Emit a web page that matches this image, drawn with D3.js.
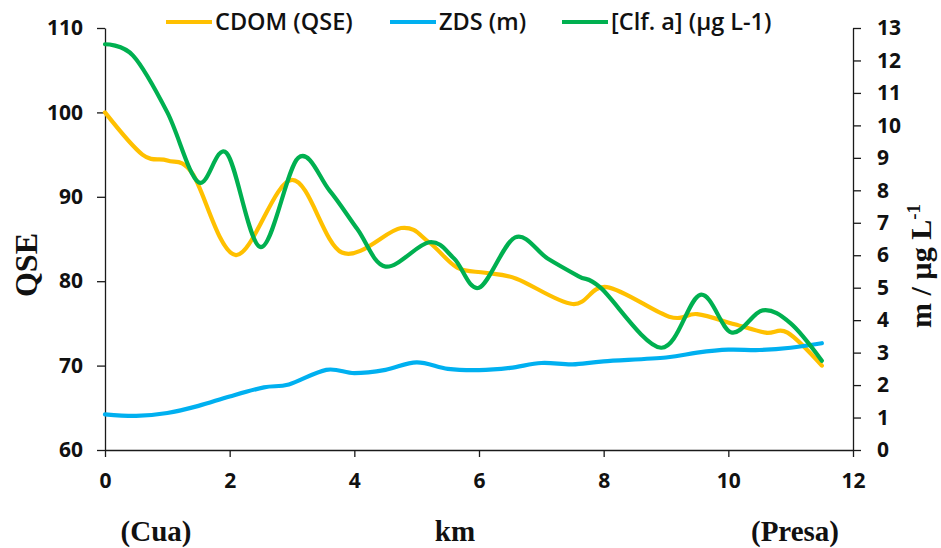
<!DOCTYPE html>
<html>
<head>
<meta charset="utf-8">
<script src="https://cdn.jsdelivr.net/npm/d3@7"></script>
<style>
  html, body { margin: 0; padding: 0; background: #fff; }
  svg { display: block; }
</style>
</head>
<body>
<svg id="chart" width="941" height="548"></svg>
<script>
// Distance along the reservoir (km) for each sampled profile
const cdomKm  = [0, 0.6, 1.0, 1.4, 2.1, 3.0, 3.8, 4.75, 5.2, 5.65, 6.1, 6.6, 7.5, 8.05, 9.05, 9.5, 10.1, 10.6, 10.95, 11.5];
const cdomQse = [100, 95.0, 94.3, 92.8, 83.1, 92.0, 83.4, 86.3, 84.6, 81.6, 81.0, 80.3, 77.3, 79.3, 75.8, 76.1, 74.9, 73.9, 73.9, 70.0];

const zdsKm = [0, 0.5, 1.0, 1.5, 2.0, 2.55, 2.95, 3.55, 4.0, 4.5, 5.0, 5.5, 6.0, 6.5, 7.0, 7.5, 8.0, 9.0, 9.5, 10.0, 10.5, 11.0, 11.5];
const zdsM  = [1.1, 1.05, 1.14, 1.36, 1.65, 1.93, 2.02, 2.47, 2.37, 2.47, 2.7, 2.5, 2.46, 2.53, 2.68, 2.64, 2.73, 2.85, 3.0, 3.09, 3.08, 3.15, 3.29];

const clfKm = [0, 0.45, 1.0, 1.5, 1.95, 2.5, 3.1, 3.6, 4.05, 4.5, 5.2, 5.6, 6.0, 6.58, 7.1, 7.6, 7.95, 8.92, 9.55, 10.05, 10.55, 11.0, 11.5];
const clfA  = [12.5, 12.15, 10.4, 8.25, 9.15, 6.25, 9.0, 8.0, 6.8, 5.65, 6.4, 5.9, 5.0, 6.55, 5.9, 5.35, 5.0, 3.15, 4.78, 3.62, 4.3, 3.9, 2.75];

// Axis ticks
const kmTicks   = [0, 2, 4, 6, 8, 10, 12];
const qseTicks  = [60, 70, 80, 90, 100, 110];
const rightTicks = [0, 1, 2, 3, 4, 5, 6, 7, 8, 9, 10, 11, 12, 13];

const seriesNames = ["CDOM (QSE)", "ZDS (m)", "[Clf. a] (µg L-1)"];
const seriesColors = ["#FFC000", "#00B0F0", "#00B050"];

const svg = d3.select("#chart");

const x  = d3.scaleLinear().domain([0, 12]).range([105, 853]);
const yL = d3.scaleLinear().domain([60, 110]).range([450, 28]);
const yR = d3.scaleLinear().domain([0, 13]).range([450, 28]);

const tickFont = "'Open Sans', sans-serif";

function styleAxis(g) {
  g.select(".domain").attr("stroke", "#1a1a1a").attr("stroke-width", 1.3);
  g.selectAll(".tick line").attr("stroke", "#1a1a1a").attr("stroke-width", 1.3);
  g.selectAll(".tick text")
    .attr("fill", "#111")
    .style("font-family", tickFont)
    .style("font-weight", "700")
    .style("font-size", "21px");
}

// Left axis (QSE)
svg.append("g")
  .attr("transform", "translate(105,0)")
  .call(d3.axisLeft(yL).tickValues(qseTicks).tickSize(8).tickPadding(14).tickSizeOuter(0))
  .call(styleAxis);

// Right axis (m / µg L-1)
svg.append("g")
  .attr("transform", "translate(853,0)")
  .call(d3.axisRight(yR).tickValues(rightTicks).tickSize(8).tickPadding(16).tickSizeOuter(0))
  .call(styleAxis);

// Bottom axis (km)
svg.append("g")
  .attr("transform", "translate(0,450)")
  .call(d3.axisBottom(x).tickValues(kmTicks).tickSize(7).tickPadding(16).tickSizeOuter(0))
  .call(styleAxis);

// Smoothed profile lines
const line = (ys) => d3.line()
  .x(d => x(d[0]))
  .y(d => ys(d[1]))
  .curve(d3.curveCardinal.tension(0));

const plot = svg.append("g").attr("fill", "none").attr("stroke-width", 4.2)
  .attr("stroke-linecap", "round").attr("stroke-linejoin", "round");

plot.append("path")
  .attr("d", line(yL)(d3.zip(cdomKm, cdomQse)))
  .attr("stroke", seriesColors[0]);

plot.append("path")
  .attr("d", line(yR)(d3.zip(zdsKm, zdsM)))
  .attr("stroke", seriesColors[1]);

plot.append("path")
  .attr("d", line(yR)(d3.zip(clfKm, clfA)))
  .attr("stroke", seriesColors[2]);

// Legend
const legendX = [166, 390, 562];
const legend = svg.append("g");
seriesNames.forEach((name, i) => {
  legend.append("line")
    .attr("x1", legendX[i]).attr("x2", legendX[i] + 46)
    .attr("y1", 22).attr("y2", 22)
    .attr("stroke", seriesColors[i]).attr("stroke-width", 4.2);
  legend.append("text")
    .attr("x", legendX[i] + 49).attr("y", 30)
    .attr("fill", "#111")
    .style("font-family", tickFont)
    .style("font-weight", "600")
    .style("font-size", "23.5px")
    .text(name);
});

// Axis titles
const serif = "'Liberation Serif', 'Times New Roman', serif";

svg.append("text")
  .attr("transform", "translate(37,265) rotate(-90)")
  .attr("text-anchor", "middle")
  .style("font-family", serif).style("font-weight", "700").style("font-size", "32px")
  .attr("fill", "#111")
  .text("QSE");

const rt = svg.append("text")
  .attr("transform", "translate(931,266) rotate(-90)")
  .attr("text-anchor", "middle")
  .style("font-family", serif).style("font-weight", "700").style("font-size", "30px")
  .attr("fill", "#111");
rt.append("tspan").text("m / µg L");
rt.append("tspan").attr("dy", -11).style("font-size", "19px").text("-1");

const bottomTitles = [["(Cua)", 156], ["km", 455], ["(Presa)", 795]];
bottomTitles.forEach(([t, cx]) => {
  svg.append("text")
    .attr("x", cx).attr("y", 541)
    .attr("text-anchor", "middle")
    .style("font-family", serif).style("font-weight", "700").style("font-size", "29px")
    .attr("fill", "#111")
    .text(t);
});
</script>
</body>
</html>
